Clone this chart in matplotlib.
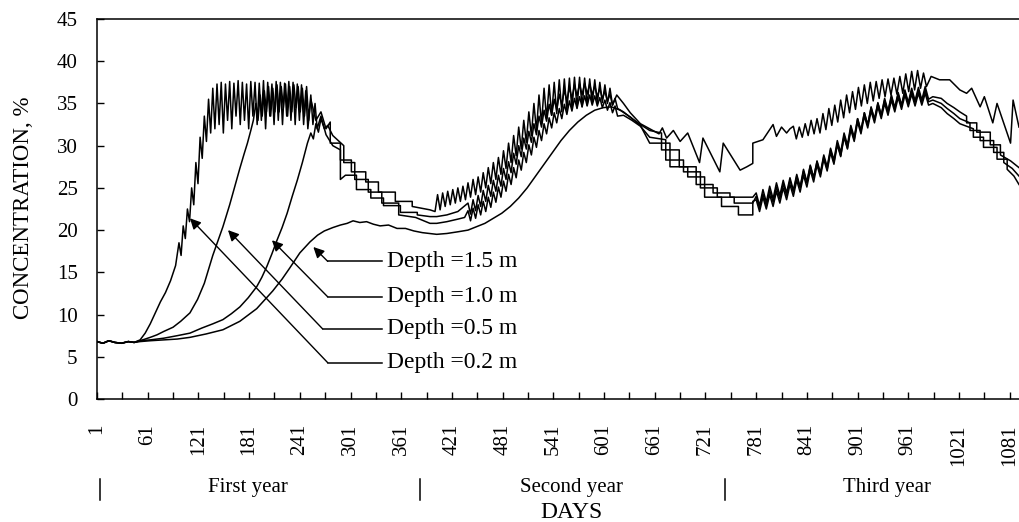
""" Soil gas concentration at four depths over three years """

import matplotlib.pyplot as plt

plt.rcParams['font.family'] = ['Liberation Serif', 'DejaVu Serif']

# ---- values: day number vs concentration (%) ----
# smooth / stepped parts are (days, values); saw-tooth parts are given as
# tooth start day, tooth period, peak values and trough values

# Depth 0.2 m
a02_days = [1, 8, 15, 22, 30, 38, 45, 52, 58, 64, 70, 76, 82, 88, 94]
a02_vals = [6.8, 6.6, 6.9, 6.7, 6.6, 6.8, 6.7, 7.0, 7.8, 8.9, 10.2, 11.5, 12.6, 14.0, 15.8]
t02_1_hi = [18.5, 20.5, 22.5, 25.0, 28.0, 31.0, 33.5, 35.5, 36.8, 37.3,
            37.5, 37.3, 37.6, 37.4, 37.7, 37.5, 37.3, 37.6, 37.5, 37.4,
            37.7, 37.5, 37.3, 37.6, 37.5, 37.4, 37.6, 37.5, 37.3, 37.2, 36.5]
t02_1_lo = [17.0, 19.0, 21.0, 23.0, 25.5, 28.5, 30.5, 31.5, 32.0, 32.5,
            31.5, 33.0, 32.0, 33.5, 32.5, 33.0, 32.0, 33.5, 32.5, 33.0,
            32.0, 33.5, 32.5, 33.0, 32.5, 33.5, 33.0, 32.5, 33.0, 32.5, 32.0]
b02_days = [254, 260, 266, 272, 277, 277, 289, 289, 302, 302, 319, 319, 334, 334, 354, 354, 374, 374, 395, 401]
b02_vals = [35.5, 33.0, 34.0, 32.0, 32.8, 30.3, 30.3, 28.3, 28.3, 26.9, 26.9, 25.7, 25.7, 24.5, 24.5, 23.4, 23.4, 22.8, 22.4, 22.2]
t02_2_hi = [24.2, 24.4, 24.6, 24.8, 25.0, 25.2, 25.6, 26.0, 26.3, 26.8,
            27.4, 28.0, 28.6, 29.4, 30.3, 31.2, 32.2, 33.0, 34.0, 35.0,
            36.0, 36.8, 37.2, 37.5, 37.8, 37.9, 38.0, 38.1, 38.1, 38.0,
            37.9, 37.8, 37.5, 37.2, 36.8]
t02_2_lo = [22.4, 22.8, 23.0, 23.2, 23.4, 23.6, 23.9, 24.2, 24.5, 25.0,
            25.5, 26.0, 26.6, 27.3, 28.0, 28.8, 29.6, 30.4, 31.2, 31.8,
            32.6, 33.2, 33.6, 33.8, 34.0, 34.2, 34.3, 34.5, 34.6, 34.8,
            35.0, 35.0, 35.1, 35.0, 34.8]
c02_days = [616, 624, 632, 644, 655, 666, 670, 675, 683, 691, 700, 714, 718, 738, 742, 762, 770, 777, 777, 789, 801, 805, 811, 817, 821]
c02_vals = [36.0, 35.0, 33.9, 32.6, 32.0, 31.4, 32.1, 30.9, 31.8, 30.5, 31.5, 28.0, 30.9, 26.9, 30.3, 27.1, 27.5, 27.9, 30.3, 30.7, 32.5, 31.1, 32.2, 31.5, 32.0]
t02_3_hi = [32.3, 32.2, 32.6, 33.0, 33.2, 33.8, 34.4, 34.8, 35.4, 36.0,
            36.4, 36.9, 37.2, 37.5, 37.6, 37.8, 37.9, 38.0, 38.2, 38.5,
            38.8, 38.9, 38.6]
t02_3_lo = [30.8, 31.0, 31.2, 31.4, 31.5, 31.9, 32.4, 32.8, 33.3, 33.9,
            34.3, 34.7, 35.0, 35.3, 35.6, 35.8, 36.0, 36.1, 36.2, 36.4,
            36.6, 36.8, 37.0]
d02_days = [988, 998, 1010, 1022, 1030, 1036, 1046, 1051, 1061, 1066, 1082, 1085, 1092]
d02_vals = [38.2, 37.8, 37.8, 36.6, 36.2, 36.8, 34.6, 35.8, 32.7, 35.0, 30.3, 35.4, 32.2]

# Depth 0.5 m
a05_days = [1, 8, 15, 22, 30, 38, 45, 52, 64, 72, 80, 91, 100, 111, 120, 128, 138, 150, 158, 165, 170, 175, 179, 183, 186]
a05_vals = [6.8, 6.6, 6.9, 6.7, 6.6, 6.8, 6.7, 6.9, 7.3, 7.6, 8.0, 8.5, 9.2, 10.2, 11.8, 13.7, 17.0, 20.4, 23.0, 25.5, 27.3, 29.0, 30.3, 31.8, 33.0]
t05_1_hi = [35.0, 36.0, 36.5, 37.0, 36.8, 37.2, 37.0, 37.3, 37.0, 37.2, 37.0, 36.8, 37.0, 36.0, 35.0]
t05_1_lo = [33.0, 33.5, 34.0, 33.5, 34.0, 34.0, 34.5, 33.5, 34.0, 34.5, 34.0, 33.5, 33.0, 32.5, 32.0]
b05_days = [266, 272, 280, 289, 289, 295, 308, 308, 325, 325, 340, 340, 360, 360, 380, 380, 395, 403, 415, 428]
b05_vals = [33.5, 31.3, 30.0, 29.5, 26.0, 26.5, 26.5, 24.8, 24.8, 23.8, 23.8, 22.9, 22.9, 22.1, 22.1, 21.8, 21.6, 21.6, 21.8, 22.2]
t05_2_hi = [23.2, 23.6, 24.1, 24.7, 25.3, 25.9, 26.5, 27.3, 28.1, 29.1,
            30.0, 30.9, 31.7, 32.6, 33.5, 34.2, 34.9, 35.5, 36.1, 36.6,
            36.9, 37.2, 37.3, 37.4, 37.3, 37.1, 36.8, 36.5, 36.1, 35.6]
t05_2_lo = [21.9, 22.3, 22.8, 23.4, 24.0, 24.6, 25.2, 26.0, 26.8, 27.8,
            28.7, 29.6, 30.4, 31.3, 32.2, 32.9, 33.6, 34.2, 34.8, 35.3,
            35.6, 35.9, 36.0, 36.1, 36.0, 35.8, 35.5, 35.2, 34.8, 34.4]
c05_days = [624, 634, 644, 655, 669, 669, 690, 690, 710, 710, 730, 730, 750, 750, 777]
c05_vals = [34.0, 33.2, 32.5, 31.8, 31.5, 29.5, 29.5, 27.5, 27.5, 25.4, 25.4, 24.4, 24.4, 23.9, 23.9]
t05_3_hi = [24.4, 24.8, 25.2, 25.6, 25.9, 26.2, 26.6, 27.2, 27.7, 28.1,
            28.7, 29.5, 30.3, 31.2, 32.2, 33.2, 33.9, 34.6, 35.1, 35.6,
            36.0, 36.3, 36.6, 36.8, 36.9, 37.0]
t05_3_lo = [22.9, 23.3, 23.7, 24.1, 24.4, 24.7, 25.1, 25.7, 26.2, 26.6,
            27.2, 28.0, 28.8, 29.7, 30.7, 31.7, 32.4, 33.1, 33.6, 34.1,
            34.5, 34.8, 35.1, 35.3, 35.4, 35.5]
d05_days = [990, 1000, 1007, 1015, 1022, 1030, 1030, 1042, 1042, 1058, 1058, 1070, 1070, 1082, 1092]
d05_vals = [35.8, 35.6, 35.0, 34.5, 34.0, 33.5, 32.7, 32.7, 31.6, 31.6, 30.1, 30.1, 28.9, 28.2, 27.4]

# Depth 1.0 m
a10_days = [1, 8, 15, 22, 30, 38, 45, 52, 64, 80, 96, 111, 125, 138, 150, 160, 170, 180,
            190, 196, 202, 208, 214, 220, 226, 232, 238, 244, 250, 254, 257, 260, 263, 266, 270, 274]
a10_vals = [6.8, 6.6, 6.9, 6.7, 6.6, 6.8, 6.7, 6.9, 7.0, 7.2, 7.5, 7.8, 8.4, 8.9, 9.4, 10.1, 10.9, 12.0,
            13.3, 14.4, 15.7, 17.2, 18.8, 20.3, 22.0, 24.0, 25.9, 28.0, 30.3, 31.5, 30.8, 32.6, 31.6, 33.2, 32.0, 32.4]
b10_days = [280, 293, 293, 306, 306, 322, 322, 338, 338, 358, 358, 378, 395, 403, 415, 428, 436]
b10_vals = [31.2, 30.0, 28.0, 28.0, 26.0, 26.0, 24.5, 24.5, 23.2, 23.2, 21.8, 21.5, 20.8, 20.8, 21.0, 21.3, 21.5]
t10_2_hi = [22.3, 22.6, 23.0, 23.4, 23.9, 24.5, 25.1, 25.8, 26.6, 27.4,
            28.3, 29.2, 30.1, 31.0, 31.8, 32.6, 33.3, 33.9, 34.4, 34.9,
            35.3, 35.6, 35.8, 35.9, 36.0, 35.9, 35.7, 35.4, 35.1, 34.7]
t10_2_lo = [21.1, 21.4, 21.8, 22.2, 22.7, 23.3, 23.9, 24.6, 25.4, 26.2,
            27.1, 28.0, 28.9, 29.8, 30.6, 31.4, 32.1, 32.7, 33.2, 33.7,
            34.1, 34.4, 34.6, 34.7, 34.8, 34.7, 34.5, 34.2, 33.9, 33.5]
c10_days = [624, 634, 644, 655, 674, 674, 695, 695, 715, 715, 735, 735, 755, 755, 777]
c10_vals = [33.6, 33.0, 32.3, 31.0, 30.7, 28.3, 28.3, 26.9, 26.9, 25.0, 25.0, 23.9, 23.9, 23.2, 23.2]
t10_3_hi = [24.0, 24.3, 24.7, 25.1, 25.5, 25.9, 26.4, 27.0, 27.6, 28.2,
            28.9, 29.7, 30.6, 31.5, 32.4, 33.2, 33.9, 34.5, 35.0, 35.4,
            35.8, 36.1, 36.4, 36.5, 36.6, 36.6]
t10_3_lo = [22.6, 22.9, 23.3, 23.7, 24.1, 24.5, 25.0, 25.6, 26.2, 26.8,
            27.5, 28.3, 29.2, 30.1, 31.0, 31.8, 32.5, 33.1, 33.6, 34.0,
            34.4, 34.7, 35.0, 35.1, 35.2, 35.2]
d10_days = [990, 1000, 1007, 1015, 1022, 1034, 1034, 1046, 1046, 1062, 1062, 1074, 1074, 1084, 1092]
d10_vals = [35.4, 35.0, 34.4, 33.8, 33.2, 32.7, 31.8, 31.8, 30.6, 30.6, 29.2, 29.2, 28.0, 27.3, 26.4]

# Depth 1.5 m
a15_days = [1, 8, 15, 22, 30, 38, 45, 52, 64, 80, 96, 111, 130, 150, 170, 190, 209, 220,
            229, 241, 253, 262, 270, 280, 289, 297, 304, 312, 320, 328, 336, 346, 356, 366,
            376, 386, 395, 403, 415, 428, 440, 450, 460, 470, 480, 490, 500, 510, 520, 530,
            540, 550, 560, 570, 580, 590, 600, 610, 620, 632, 644, 655]
a15_vals = [6.8, 6.6, 6.9, 6.7, 6.6, 6.8, 6.7, 6.8, 6.9, 7.0, 7.1, 7.3, 7.7, 8.2, 9.2, 10.7, 12.8, 14.2,
            15.5, 17.3, 18.6, 19.4, 19.9, 20.3, 20.6, 20.8, 21.1, 20.9, 21.0, 20.7, 20.5, 20.6, 20.2, 20.2,
            19.9, 19.7, 19.6, 19.5, 19.6, 19.8, 20.0, 20.4, 20.8, 21.4, 22.0, 22.8, 23.8, 25.0, 26.4, 27.8,
            29.2, 30.6, 31.8, 32.8, 33.6, 34.2, 34.5, 34.6, 34.2, 33.4, 32.4, 30.3]
c15_days = [679, 679, 700, 700, 720, 720, 740, 740, 760, 760, 777, 777]
c15_vals = [30.3, 27.5, 27.5, 26.3, 26.3, 23.9, 23.9, 22.8, 22.8, 21.8, 21.8, 23.4]
t15_3_hi = [23.6, 23.9, 24.2, 24.6, 25.0, 25.4, 25.9, 26.5, 27.1, 27.7,
            28.4, 29.2, 30.1, 31.0, 31.9, 32.8, 33.5, 34.1, 34.6, 35.0,
            35.4, 35.7, 36.0, 36.1, 36.2, 36.2]
t15_3_lo = [22.2, 22.5, 22.8, 23.2, 23.6, 24.0, 24.5, 25.1, 25.7, 26.3,
            27.0, 27.8, 28.7, 29.6, 30.5, 31.4, 32.1, 32.7, 33.2, 33.6,
            34.0, 34.3, 34.6, 34.7, 34.8, 34.8]
d15_days = [990, 1000, 1007, 1015, 1022, 1038, 1038, 1050, 1050, 1066, 1066, 1078, 1078, 1086, 1092]
d15_vals = [35.0, 34.5, 33.8, 33.2, 32.6, 32.0, 31.0, 31.0, 29.8, 29.8, 28.4, 28.4, 27.2, 26.4, 25.4]

# annotation labels, arrow targets on the curves and label heights
depth_labels = ['Depth =0.2 m', 'Depth =0.5 m', 'Depth =1.0 m', 'Depth =1.5 m']
arrow_day = [111, 156, 208, 257]
arrow_val = [21.4, 20.0, 18.8, 18.0]
label_val = [4.3, 8.3, 12.1, 16.3]
elbow_day = [274, 268, 274, 274]

tick_labels = ['1', '61', '121', '181', '241', '301', '361', '421', '481', '541',
               '601', '661', '721', '781', '841', '901', '961', '1021', '1081']
years = ['First year', 'Second year', 'Third year']
year_mid = [180, 563, 936]
year_marks = [5, 383, 744]


def saw(start, period, highs, lows):
    days, vals = [], []
    for i, (h, l) in enumerate(zip(highs, lows)):
        days += [start + i * period, start + i * period + period / 2]
        vals += [h, l]
    return days, vals


def join(*parts):
    days, vals = [], []
    for d, v in parts:
        days += list(d)
        vals += list(v)
    return days, vals


depth02 = join((a02_days, a02_vals), saw(98, 5, t02_1_hi, t02_1_lo), (b02_days, b02_vals),
               saw(404, 6, t02_2_hi, t02_2_lo), (c02_days, c02_vals),
               saw(825, 7, t02_3_hi, t02_3_lo), (d02_days, d02_vals))
depth05 = join((a05_days, a05_vals), saw(189, 5, t05_1_hi, t05_1_lo), (b05_days, b05_vals),
               saw(440, 6, t05_2_hi, t05_2_lo), (c05_days, c05_vals),
               saw(781, 8, t05_3_hi, t05_3_lo), (d05_days, d05_vals))
depth10 = join((a10_days, a10_vals), (b10_days, b10_vals),
               saw(440, 6, t10_2_hi, t10_2_lo), (c10_days, c10_vals),
               saw(781, 8, t10_3_hi, t10_3_lo), (d10_days, d10_vals))
depth15 = join((a15_days, a15_vals), (c15_days, c15_vals),
               saw(781, 8, t15_3_hi, t15_3_lo), (d15_days, d15_vals))

fig = plt.figure(figsize=(10.19, 5.22), dpi=100)
ax = fig.add_axes([97 / 1019, 1 - 399 / 522, 922 / 1019, 380 / 522])

for days, vals in [depth15, depth10, depth05, depth02]:
    ax.plot(days, vals, color='black', lw=1.1)

ax.set_xlim(1, 1092)
ax.set_ylim(0, 45)
ax.set_yticks(range(0, 46, 5))
xt = list(range(1, 1092, 30))
ax.set_xticks(xt)
ax.set_xticklabels([tick_labels[i // 2] if i % 2 == 0 else '' for i in range(len(xt))],
                   rotation=90)
ax.tick_params(axis='both', direction='in', length=5, width=1, labelsize=15)
ax.tick_params(axis='x', pad=18)
ax.tick_params(axis='y', pad=14)
ax.spines['right'].set_visible(False)
for s in ['left', 'top', 'bottom']:
    ax.spines[s].set_linewidth(1.1)

# depth labels with leader lines and arrows
for lab, td, tv, lv, ed in zip(depth_labels, arrow_day, arrow_val, label_val, elbow_day):
    ax.annotate('', xy=(td, tv), xytext=(ed, lv),
                arrowprops=dict(arrowstyle='-|>', color='black', lw=1.0,
                                mutation_scale=16, shrinkA=0, shrinkB=0))
    ax.plot([ed, 338], [lv, lv], color='black', lw=1.1)
    ax.text(344, lv, lab, fontsize=17, va='center', ha='left')

# year captions under the axis
trans = ax.get_xaxis_transform()
for name, mid in zip(years, year_mid):
    ax.text(mid, -0.232, name, transform=trans, ha='center', va='center',
            fontsize=15, clip_on=False)
for m in year_marks:
    ax.plot([m, m], [-0.21, -0.265], transform=trans, color='black', lw=1.1, clip_on=False)
ax.text(563, -0.30, 'DAYS', transform=trans, ha='center', va='center', fontsize=17, clip_on=False)

fig.text(24 / 1019, 1 - 208 / 522, 'CONCENTRATION, %', rotation=90,
         ha='center', va='center', fontsize=16.5)

fig.savefig('out.png', dpi=100)
